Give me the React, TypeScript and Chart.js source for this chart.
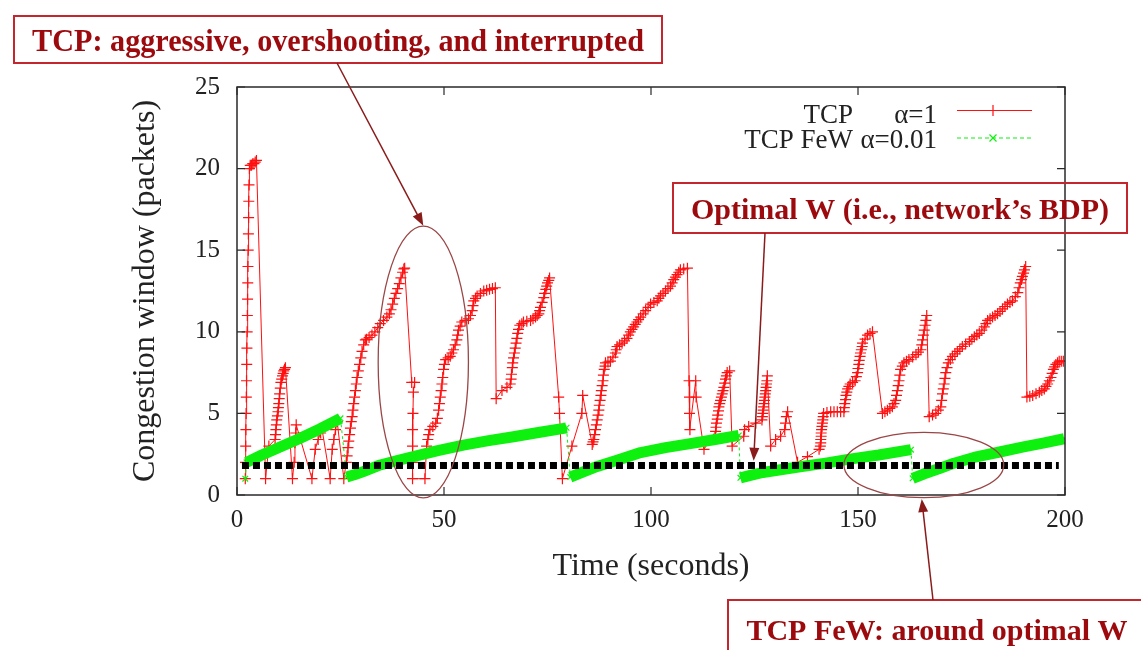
import { useEffect, useRef } from 'react';
import { Chart, registerables } from 'chart.js';

Chart.register(...registerables);

// ---- data -------------------------------------------------------------
// TCP (alpha = 1): congestion window over time, one entry per sample
const tcpTime = [
  2.0, 2.05, 2.1, 2.15, 2.2, 2.25, 2.3, 2.35, 2.4, 2.45, 2.5, 2.55, 2.6, 2.65, 2.7, 2.75, 2.8, 2.85, 2.9, 3.0,
  3.2, 3.5, 3.8, 4.1, 4.4, 4.7,
  6.9, 7.7, 9.2, 9.3, 9.4, 9.5, 9.6, 9.75, 9.9, 10.0, 10.1, 10.2, 10.3, 10.45, 10.6, 10.8, 11.0, 11.15, 11.3, 11.5, 11.7,
  13.4, 13.8, 14.0, 14.2, 14.3,
  18.1, 18.9, 19.6, 20.2, 20.5,
  22.5, 23.0, 23.4, 23.8, 24.2,
  25.8, 26.4, 26.6, 26.8, 27.0, 27.2, 27.4, 27.6, 27.8, 28.0, 28.2, 28.4, 28.6, 28.8, 29.0, 29.3, 29.6, 29.9, 30.2, 30.6, 31.0,
  31.3, 31.9, 32.6, 33.3, 34.0, 34.6, 35.4, 36.2, 36.8, 37.2, 37.6, 38.0, 38.4, 38.8, 39.2, 39.6, 40.0, 40.3, 40.5,
  42.2, 42.9, 42.6, 42.5, 42.4, 42.4, 42.4, 42.4,
  45.4, 45.8, 46.1, 46.3, 46.6, 47.3, 48.0, 48.4, 48.7, 48.9, 49.1, 49.3, 49.5, 49.7, 49.9, 50.1, 50.4,
  51.0, 51.5, 51.9, 52.3, 52.7, 53.1, 53.3, 53.5, 53.9, 54.3, 55.1, 55.9, 56.4, 56.8, 57.0, 57.2, 57.6, 58.0, 58.8, 59.6, 60.3, 61.0, 61.7, 62.4,
  62.6, 64.0, 65.2, 66.0, 66.2, 66.3, 66.5, 66.6, 66.8, 67.0, 67.2, 67.4, 67.6, 67.8, 68.0, 68.3,
  68.8, 69.2, 70.0, 70.9, 71.5, 72.1, 72.5, 72.9, 73.1, 73.3, 73.7, 74.1, 74.3, 74.6, 74.8, 75.0, 75.3, 75.5,
  77.7, 77.9, 78.6, 80.9, 83.3, 83.5,
  85.8, 86.0, 86.2, 86.4, 86.6, 86.8, 87.0, 87.2, 87.4, 87.5, 87.7, 87.9, 88.0, 88.2, 88.4, 88.5, 88.7, 88.9, 89.0,
  89.6, 90.2, 90.8, 91.4, 91.6, 91.8, 92.4, 93.0, 93.6, 94.2, 94.6, 95.0, 95.4, 95.8, 96.2, 96.6, 97.0, 97.5,
  98.1, 98.7, 99.3, 99.9, 100.7, 101.5, 101.9, 102.3, 102.9, 103.5, 104.1, 104.7, 105.1, 105.5, 105.9, 106.3, 106.7, 107.1, 107.9, 108.8,
  109.2, 109.3, 109.3, 109.4, 110.8, 110.9, 112.8,
  115.6, 115.7, 115.8, 116.0, 116.1, 116.3, 116.4, 116.6, 116.8, 117.0, 117.2, 117.4, 117.6, 117.8, 118.0, 118.2, 118.4, 119.0,
  119.6, 122.4, 122.6, 123.6, 125.3,
  126.8, 126.9, 127.0, 127.1, 127.2, 127.3, 127.4, 127.5, 127.6, 127.7, 127.8, 127.9, 128.0, 128.1,
  128.9, 130.1, 131.3, 132.3, 132.5, 132.7, 133.0,
  135.4, 137.8, 140.6, 140.9, 141.0, 141.0, 141.1, 141.1, 141.2, 141.3, 141.4, 141.5, 141.6, 141.7,
  142.5, 143.4, 144.2, 145.0, 145.8, 146.6, 146.7, 146.8, 147.0, 147.1, 147.3, 147.5, 147.8, 148.1, 148.7,
  149.3, 149.6, 149.9, 150.0, 150.2, 150.3, 150.5, 150.6, 150.8, 151.0, 151.1, 151.7, 152.3, 152.9, 153.5,
  155.9, 156.5, 157.1, 157.7, 158.3, 158.7, 159.1, 159.3, 159.5, 159.7, 159.9, 160.1, 160.3, 160.7,
  161.1, 161.7, 162.3, 163.2, 164.0, 164.6, 165.2, 165.4, 165.6, 165.8, 166.0, 166.2, 166.4, 166.6,
  167.2, 168.0, 168.8, 169.4, 170.0, 170.2, 170.4, 170.6, 170.8, 171.0, 171.2, 171.5, 171.8, 172.3, 172.8, 173.4,
  174.0, 174.6, 175.2, 176.0, 176.9, 177.5, 178.1, 178.7, 179.3, 179.9, 180.5, 180.9, 181.3, 181.9, 182.5, 183.1,
  183.7, 184.3, 184.9, 185.5, 186.1, 186.7, 187.3, 188.0, 188.6, 188.9, 189.2, 189.5, 189.7, 190.0, 190.2, 190.5,
  190.8, 191.5, 192.2, 193.0, 193.8, 194.4, 195.0, 195.4, 195.8, 196.2, 196.6, 196.9, 197.2, 197.5, 197.8, 198.2, 198.6, 199.1, 199.6,
];
const tcpWindow = [
  1, 2, 3, 4, 5, 6, 7, 8, 9, 10, 11, 12, 13, 14, 15, 16, 17, 18, 19, 20.0,
  20.2, 20.2, 20.3, 20.3, 20.4, 20.5,
  1.0, 3.0, 3.4, 3.7, 4.0, 4.3, 4.6, 4.85, 5.1, 5.35, 5.6, 5.9, 6.2, 6.55, 6.9, 7.1, 7.3, 7.45, 7.6, 7.7, 7.8,
  1.0, 2.0, 3.2, 3.8, 4.3,
  1.0, 2.8, 3.4, 3.8, 4.1,
  1.0, 2.8, 3.4, 4.0, 4.5,
  1.0, 2.0, 2.4, 2.9, 3.3, 3.7, 4.1, 4.5, 4.8, 5.2, 5.6, 6.0, 6.4, 6.8, 7.2, 7.6, 8.0, 8.4, 8.8, 9.2, 9.5,
  9.55, 9.65, 9.8, 10.0, 10.25, 10.5, 10.7, 10.9, 11.1, 11.35, 11.7, 12.05, 12.35, 12.65, 12.95, 13.3, 13.65, 13.85, 13.9,
  6.9, 6.9, 6.3, 5.0, 4.0, 3.0, 2.0, 1.0,
  1.0, 3.0, 3.4, 3.7, 4.0, 4.2, 4.4, 4.7, 5.2, 5.6, 6.0, 6.4, 6.8, 7.2, 7.7, 8.0, 8.3,
  8.4, 8.5, 8.7, 8.9, 9.2, 9.5, 9.8, 10.1, 10.35, 10.6, 10.7, 10.8, 11.0, 11.3, 11.6, 11.9, 12.05, 12.2, 12.35, 12.5, 12.55, 12.6, 12.65, 12.7,
  5.9, 6.4, 6.6, 6.8, 7.1, 7.4, 7.8, 8.1, 8.4, 8.7, 9.0, 9.3, 9.6, 9.9, 10.15, 10.4,
  10.5, 10.6, 10.65, 10.7, 10.8, 10.9, 11.0, 11.1, 11.3, 11.5, 11.8, 12.1, 12.35, 12.6, 12.8, 13.0, 13.15, 13.3,
  6.0, 5.0, 1.0, 3.0, 5.0, 6.1,
  3.1, 3.25, 3.4, 3.7, 4.0, 4.3, 4.6, 4.9, 5.2, 5.5, 5.8, 6.1, 6.4, 6.7, 7.0, 7.35, 7.7, 7.9, 8.1,
  8.15, 8.2, 8.45, 8.7, 8.9, 9.1, 9.2, 9.3, 9.45, 9.6, 9.8, 10.0, 10.15, 10.3, 10.45, 10.6, 10.75, 10.9,
  11.1, 11.3, 11.5, 11.7, 11.8, 11.9, 12.05, 12.2, 12.35, 12.5, 12.65, 12.8, 13.0, 13.2, 13.35, 13.5, 13.65, 13.8, 13.85, 13.9,
  7.0, 6.0, 5.0, 4.0, 7.0, 6.0, 2.8,
  3.9, 4.15, 4.4, 4.65, 4.9, 5.15, 5.4, 5.6, 5.8, 6.0, 6.2, 6.4, 6.6, 6.85, 7.1, 7.3, 7.5, 7.6,
  3.0, 3.6, 4.0, 4.2, 4.4,
  4.6, 4.8, 5.0, 5.2, 5.4, 5.6, 5.8, 6.0, 6.2, 6.4, 6.6, 6.8, 7.0, 7.3,
  3.0, 3.4, 3.6, 4.0, 4.4, 4.8, 5.1,
  2.0, 2.35, 2.8, 3.0, 3.2, 3.4, 3.6, 3.8, 4.0, 4.2, 4.4, 4.6, 4.8, 5.0,
  5.05, 5.1, 5.1, 5.1, 5.1, 5.1, 5.35, 5.6, 5.85, 6.1, 6.3, 6.5, 6.65, 6.8, 6.9,
  7.0, 7.25, 7.5, 7.75, 8.0, 8.25, 8.5, 8.7, 8.9, 9.1, 9.3, 9.55, 9.8, 9.9, 10.0,
  5.0, 5.1, 5.2, 5.3, 5.4, 5.6, 5.8, 6.1, 6.4, 6.7, 7.0, 7.35, 7.7, 7.9,
  8.1, 8.2, 8.3, 8.45, 8.6, 8.75, 8.9, 9.2, 9.5, 9.8, 10.1, 10.4, 10.7, 11.0,
  4.8, 4.9, 5.0, 5.2, 5.4, 5.8, 6.2, 6.5, 6.8, 7.15, 7.5, 7.8, 8.1, 8.3, 8.5, 8.65,
  8.8, 8.95, 9.1, 9.25, 9.4, 9.55, 9.7, 9.8, 9.9, 10.1, 10.3, 10.5, 10.7, 10.8, 10.9, 11.0,
  11.1, 11.25, 11.4, 11.55, 11.7, 11.8, 11.9, 12.15, 12.4, 12.7, 13.0, 13.2, 13.4, 13.6, 13.8, 14.0,
  6.0, 6.05, 6.1, 6.2, 6.3, 6.4, 6.5, 6.65, 6.8, 7.0, 7.2, 7.45, 7.7, 7.85, 8.0, 8.1, 8.2, 8.2, 8.2,
];

// TCP FeW (alpha = 0.01)
const fewTime = [
  2.0, 2.3, 6.0, 10.0, 15.0, 20.0, 25.0,
  26.5, 28.5, 30.5, 34.6, 38.5, 42.6, 48.5, 54.7, 60.8, 66.8, 72.8, 78.9, 79.6,
  80.5, 83.5, 87.0, 92.0, 97.5, 103.5, 109.5, 115.5, 121.2,
  121.6, 124.0, 127.0, 131.3, 136.0, 141.8, 148.0, 155.0, 162.8,
  163.2, 166.0, 170.0, 173.2, 178.0, 184.5, 190.0, 195.0, 199.8,
];
const fewWindow = [
  1.0, 2.0, 2.45, 2.9, 3.45, 4.05, 4.7,
  1.1, 1.25, 1.43, 1.84, 2.1, 2.35, 2.72, 3.06, 3.33, 3.57, 3.83, 4.08, 4.12,
  1.1, 1.4, 1.75, 2.15, 2.6, 2.9, 3.15, 3.4, 3.65,
  1.05, 1.2, 1.38, 1.55, 1.73, 1.94, 2.2, 2.45, 2.78,
  1.02, 1.3, 1.65, 1.95, 2.3, 2.65, 2.95, 3.2, 3.45,
];

// Optimal window (network's bandwidth-delay product)
const optimalTime = [1.2, 198.5];
const optimalWindow = [1.8, 1.8];

const xTicks = [0, 50, 100, 150, 200];
const yTicks = [0, 5, 10, 15, 20, 25];

const legendNames = ['TCP', 'TCP FeW'];
const legendParams = ['α=1', 'α=0.01'];

// ---- styling ----------------------------------------------------------
const SERIF = '"Liberation Serif", "DejaVu Serif", "Times New Roman", serif';
const INK = '#222222';
const TCP_RED = '#ff1010';
const FEW_GREEN = '#0ef00e';
const NOTE_TEXT = '#9c0a0e';
const NOTE_BOX = '#c3262c';
const NOTE_ARROW = '#8a1b1b';
const NOTE_RING = '#9a4646';

const toPoints = (xs: number[], ys: number[]) => xs.map((x, i) => ({ x, y: ys[i] }));

const isDrop = (c: any) => c.p0DataIndex === 0 || c.p1.parsed.y < c.p0.parsed.y - 0.3;

function drawArrow(ctx: CanvasRenderingContext2D, x0: number, y0: number, x1: number, y1: number) {
  const ang = Math.atan2(y1 - y0, x1 - x0);
  const len = 13;
  const half = 5;
  ctx.strokeStyle = NOTE_ARROW;
  ctx.fillStyle = NOTE_ARROW;
  ctx.lineWidth = 1.5;
  ctx.beginPath();
  ctx.moveTo(x0, y0);
  ctx.lineTo(x1 - Math.cos(ang) * len * 0.8, y1 - Math.sin(ang) * len * 0.8);
  ctx.stroke();
  ctx.beginPath();
  ctx.moveTo(x1, y1);
  ctx.lineTo(x1 - Math.cos(ang) * len + Math.sin(ang) * half, y1 - Math.sin(ang) * len - Math.cos(ang) * half);
  ctx.lineTo(x1 - Math.cos(ang) * len - Math.sin(ang) * half, y1 - Math.sin(ang) * len + Math.cos(ang) * half);
  ctx.closePath();
  ctx.fill();
}

function drawNoteBox(
  ctx: CanvasRenderingContext2D,
  left: number, top: number, right: number, bottom: number,
  text: string, cx: number, baseline: number, size: number, maxWidth: number,
) {
  ctx.strokeStyle = NOTE_BOX;
  ctx.lineWidth = 2;
  ctx.strokeRect(left, top, right - left, bottom - top);
  ctx.fillStyle = NOTE_TEXT;
  ctx.font = `bold ${size}px ${SERIF}`;
  ctx.textAlign = 'center';
  ctx.textBaseline = 'alphabetic';
  ctx.fillText(text, cx, baseline, maxWidth);
}

const decorations = {
  id: 'gnuplotDecor',
  beforeDraw(chart: any) {
    const { ctx, width, height } = chart;
    ctx.save();
    ctx.fillStyle = '#ffffff';
    ctx.fillRect(0, 0, width, height);
    ctx.restore();
  },
  afterDatasetsDraw(chart: any) {
    const { ctx, chartArea: a } = chart;
    const xs = chart.scales.x;
    const ys = chart.scales.y;
    ctx.save();

    // plot border with inward ticks on all four sides
    ctx.strokeStyle = '#2a2a2a';
    ctx.lineWidth = 1.5;
    ctx.strokeRect(a.left, a.top, a.right - a.left, a.bottom - a.top);
    ctx.lineWidth = 1.2;
    ctx.beginPath();
    for (const v of xTicks) {
      const px = xs.getPixelForValue(v);
      ctx.moveTo(px, a.bottom); ctx.lineTo(px, a.bottom - 8);
      ctx.moveTo(px, a.top); ctx.lineTo(px, a.top + 8);
    }
    for (const v of yTicks) {
      const py = ys.getPixelForValue(v);
      ctx.moveTo(a.left, py); ctx.lineTo(a.left + 8, py);
      ctx.moveTo(a.right, py); ctx.lineTo(a.right - 8, py);
    }
    ctx.stroke();

    // key
    const rows = [
      { base: 123, mid: 110.5, color: TCP_RED, dash: [] as number[], style: 'cross' },
      { base: 148, mid: 138, color: FEW_GREEN, dash: [4, 3], style: 'crossRot' },
    ];
    ctx.font = `27px ${SERIF}`;
    ctx.textBaseline = 'alphabetic';
    ctx.textAlign = 'right';
    rows.forEach((r, i) => {
      ctx.fillStyle = INK;
      ctx.fillText(legendNames[i], 853, r.base);
      ctx.fillText(legendParams[i], 937, r.base);
      ctx.strokeStyle = r.color;
      ctx.lineWidth = 1.2;
      ctx.setLineDash(r.dash);
      ctx.beginPath();
      ctx.moveTo(957, r.mid);
      ctx.lineTo(1032, r.mid);
      ctx.stroke();
      ctx.setLineDash([]);
      ctx.beginPath();
      if (r.style === 'cross') {
        ctx.moveTo(993 - 5.5, r.mid); ctx.lineTo(993 + 5.5, r.mid);
        ctx.moveTo(993, r.mid - 5.5); ctx.lineTo(993, r.mid + 5.5);
      } else {
        ctx.moveTo(993 - 3.5, r.mid - 3.5); ctx.lineTo(993 + 3.5, r.mid + 3.5);
        ctx.moveTo(993 - 3.5, r.mid + 3.5); ctx.lineTo(993 + 3.5, r.mid - 3.5);
      }
      ctx.stroke();
    });

    // highlighted regions
    ctx.strokeStyle = NOTE_RING;
    ctx.lineWidth = 1.3;
    const rings = [
      { t: 45.0, w: 8.15, dt: 10.9, dw: 8.33 },
      { t: 165.9, w: 1.84, dt: 19.3, dw: 2.0 },
    ];
    for (const r of rings) {
      const cx = xs.getPixelForValue(r.t);
      const cy = ys.getPixelForValue(r.w);
      const rx = xs.getPixelForValue(r.t + r.dt) - cx;
      const ry = cy - ys.getPixelForValue(r.w + r.dw);
      ctx.beginPath();
      ctx.ellipse(cx, cy, rx, ry, 0, 0, Math.PI * 2);
      ctx.stroke();
    }

    // callouts
    drawNoteBox(ctx, 14, 16, 662, 63, 'TCP: aggressive, overshooting, and interrupted', 338, 51, 32, 612);
    drawArrow(ctx, 337, 63, xs.getPixelForValue(45.0), ys.getPixelForValue(16.5));

    drawNoteBox(ctx, 673, 183, 1127, 233, 'Optimal W (i.e., network’s BDP)', 900, 219, 30, 422);
    drawArrow(ctx, 765, 233, xs.getPixelForValue(124.8), ys.getPixelForValue(2.1));

    drawNoteBox(ctx, 728, 600, 1170, 680, 'TCP FeW: around optimal W', 937, 640, 30, 385);
    drawArrow(ctx, 933, 600, xs.getPixelForValue(165.4), ys.getPixelForValue(-0.25));

    ctx.restore();
  },
};

export default function App() {
  const canvasRef = useRef<HTMLCanvasElement | null>(null);

  useEffect(() => {
    const canvas = canvasRef.current;
    if (!canvas) return;

    const chart = new Chart(canvas, {
      type: 'scatter',
      data: {
        datasets: [
          {
            label: `${legendNames[0]} ${legendParams[0]}`,
            data: toPoints(tcpTime, tcpWindow),
            showLine: true,
            borderColor: TCP_RED,
            borderWidth: 1,
            pointStyle: 'cross',
            pointRadius: 5.5,
            pointBorderWidth: 1.2,
            pointBorderColor: TCP_RED,
            pointBackgroundColor: TCP_RED,
            order: 3,
          },
          {
            label: `${legendNames[1]} ${legendParams[1]}`,
            data: toPoints(fewTime, fewWindow),
            showLine: true,
            borderColor: FEW_GREEN,
            borderWidth: 11,
            borderJoinStyle: 'round',
            borderCapStyle: 'butt',
            pointStyle: 'crossRot',
            pointRadius: 4,
            pointBorderWidth: 1.2,
            pointBorderColor: FEW_GREEN,
            segment: {
              borderWidth: (c: any) => (isDrop(c) ? 1 : 11),
              borderDash: (c: any) => (isDrop(c) ? [3, 3] : undefined),
            },
            order: 2,
          },
          {
            label: 'Optimal W',
            data: toPoints(optimalTime, optimalWindow),
            showLine: true,
            borderColor: '#000000',
            borderWidth: 7,
            borderDash: [7, 4],
            borderCapStyle: 'butt',
            pointRadius: 0,
            order: 1,
          },
        ],
      },
      options: {
        animation: false,
        responsive: false,
        devicePixelRatio: 1,
        layout: { padding: { left: 0, top: 87, right: 76, bottom: 0 } },
        plugins: {
          legend: { display: false },
          tooltip: { enabled: false },
        },
        scales: {
          x: {
            type: 'linear',
            min: 0,
            max: 200,
            afterFit: (s: any) => { s.height = 155; },
            afterBuildTicks: (s: any) => { s.ticks = xTicks.map((v) => ({ value: v })); },
            ticks: {
              font: { family: SERIF, size: 25 },
              color: INK,
              padding: 10,
              maxRotation: 0,
              autoSkip: false,
            },
            grid: { display: false, drawTicks: false },
            border: { display: false },
            title: {
              display: true,
              text: 'Time (seconds)',
              font: { family: SERIF, size: 32 },
              color: INK,
              padding: { top: 0, bottom: 64 },
            },
          },
          y: {
            type: 'linear',
            min: 0,
            max: 25,
            afterFit: (s: any) => { s.width = 237; },
            afterBuildTicks: (s: any) => { s.ticks = yTicks.map((v) => ({ value: v })); },
            ticks: {
              font: { family: SERIF, size: 25 },
              color: INK,
              padding: 17,
              autoSkip: false,
            },
            grid: { display: false, drawTicks: false },
            border: { display: false },
            title: {
              display: true,
              text: 'Congestion window (packets)',
              font: { family: SERIF, size: 32 },
              color: INK,
              padding: { top: 126, bottom: 0 },
            },
          },
        },
      },
      plugins: [decorations],
    });

    return () => chart.destroy();
  }, []);

  return (
    <div style={{ position: 'fixed', left: 0, top: 0, width: 1141, height: 650, background: '#fff' }}>
      <canvas ref={canvasRef} width={1141} height={650} style={{ display: 'block' }} />
    </div>
  );
}
